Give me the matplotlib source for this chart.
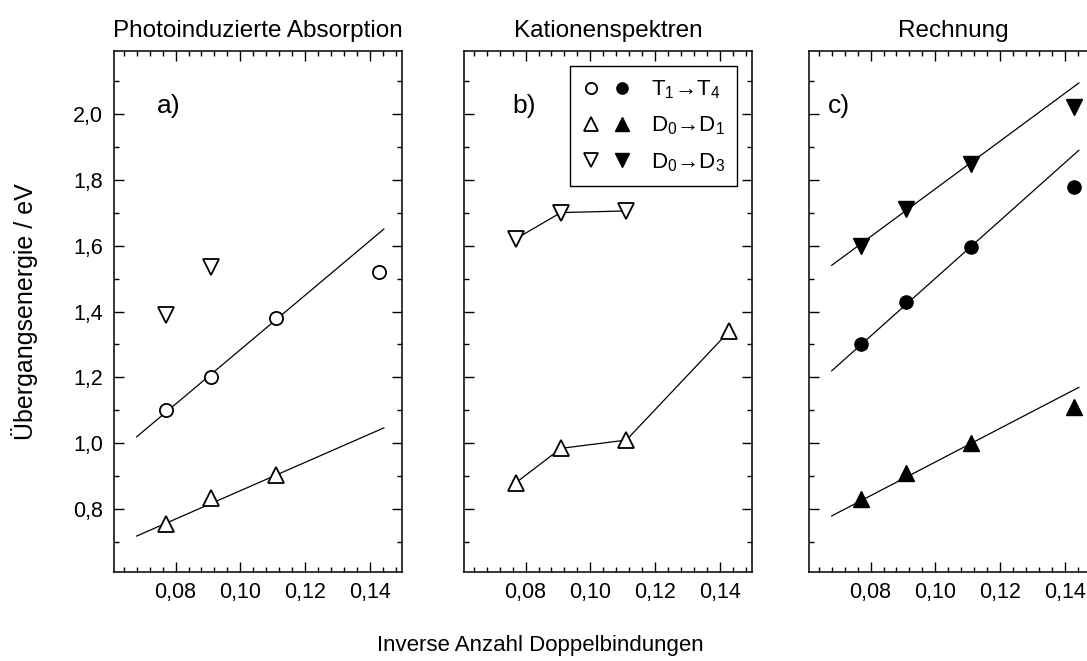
import numpy as np
import matplotlib
matplotlib.use('Agg')
import matplotlib.pyplot as plt
from matplotlib.ticker import MultipleLocator, FixedLocator, FixedFormatter
from matplotlib.legend_handler import HandlerTuple
from matplotlib.lines import Line2D

plt.rcParams['font.family'] = ['Liberation Sans', 'DejaVu Sans']
plt.rcParams['mathtext.fontset'] = 'custom'
plt.rcParams['mathtext.rm'] = 'Liberation Sans'
plt.rcParams['mathtext.it'] = 'Liberation Sans:italic'

# x: inverse Anzahl Doppelbindungen (1/13, 1/11, 1/9, 1/7)
inv_n = [1 / 13, 1 / 11, 1 / 9, 1 / 7]

# a) Photoinduzierte Absorption - offene Symbole
a_t1t4 = [1.10, 1.20, 1.38, 1.52]
a_d0d1 = [0.757, 0.835, 0.905]
a_d0d3 = [1.388, 1.534]

# b) Kationenspektren
b_d0d3 = [1.62, 1.70, 1.705]
b_d0d1 = [0.88, 0.985, 1.01, 1.34]

# c) Rechnung - gefuellte Symbole
c_t1t4 = [1.30, 1.43, 1.595, 1.777]
c_d0d1 = [0.83, 0.91, 1.00, 1.11]
c_d0d3 = [1.60, 1.71, 1.848, 2.02]

# lineare Fits (Endpunkte)
fit_x = [0.068, 0.1443]
a_fit_t1t4 = [1.02, 1.65]
a_fit_d0d1 = [0.719, 1.047]
c_fit_t1t4 = [1.22, 1.889]
c_fit_d0d1 = [0.78, 1.17]
c_fit_d0d3 = [1.54, 2.093]

titles = ['Photoinduzierte Absorption', 'Kationenspektren', 'Rechnung']
panel_tags = ['a)', 'b)', 'c)']
legend_labels = ['T$_1$→T$_4$', 'D$_0$→D$_1$', 'D$_0$→D$_3$']
xticks = [0.08, 0.10, 0.12, 0.14]
xtick_labels = ['0,08', '0,10', '0,12', '0,14']
yticks = [0.8, 1.0, 1.2, 1.4, 1.6, 1.8, 2.0]
ytick_labels = ['0,8', '1,0', '1,2', '1,4', '1,6', '1,8', '2,0']

W, H = 1087, 661
fig = plt.figure(figsize=(W / 100, H / 100), dpi=100)

lefts = [114, 464, 809]
ax_w, ax_top, ax_bot = 288, 51, 572
axes = []
for l in lefts:
    ax = fig.add_axes([l / W, 1 - ax_bot / H, ax_w / W, (ax_bot - ax_top) / H])
    axes.append(ax)

ms_c = 9.5
ms_t = 11.5
lw = 0.9
tag_x = [0.148, 0.168, 0.066]

for i, ax in enumerate(axes):
    ax.set_xlim(0.061, 0.1499)
    ax.set_ylim(0.61, 2.19)
    ax.xaxis.set_major_locator(FixedLocator(xticks))
    ax.xaxis.set_major_formatter(FixedFormatter(xtick_labels))
    ax.xaxis.set_minor_locator(MultipleLocator(0.004))
    ax.yaxis.set_major_locator(FixedLocator(yticks))
    ax.yaxis.set_minor_locator(MultipleLocator(0.1))
    if i == 0:
        ax.yaxis.set_major_formatter(FixedFormatter(ytick_labels))
    else:
        ax.set_yticklabels([])
    ax.tick_params(which='both', direction='in', top=True, right=True, width=1.0)
    ax.tick_params(which='major', length=7, labelsize=15.5)
    ax.tick_params(axis='x', which='major', pad=7)
    ax.tick_params(axis='y', which='major', pad=8)
    ax.tick_params(which='minor', length=3.5)
    for s in ax.spines.values():
        s.set_linewidth(1.1)
    ax.set_title(titles[i], fontsize=17.5, pad=10)
    ax.text(tag_x[i], 0.895, panel_tags[i], transform=ax.transAxes,
            fontsize=19, ha='left', va='center')

open_kw = dict(mfc='white', mec='black', mew=1.3, ls='none', clip_on=False)
fill_kw = dict(mfc='black', mec='black', mew=1.0, ls='none', clip_on=False)

# a)
ax = axes[0]
ax.plot(fit_x, a_fit_t1t4, color='black', lw=lw)
ax.plot(fit_x, a_fit_d0d1, color='black', lw=lw)
ax.plot(inv_n, a_t1t4, marker='o', ms=ms_c, **open_kw)
ax.plot(inv_n[:3], a_d0d1, marker='^', ms=ms_t, **open_kw)
ax.plot(inv_n[:2], a_d0d3, marker='v', ms=ms_t, **open_kw)

# b)
ax = axes[1]
ax.plot(inv_n[:3], b_d0d3, color='black', lw=lw, marker='v', ms=ms_t,
        mfc='white', mec='black', mew=1.3)
ax.plot(inv_n, b_d0d1, color='black', lw=lw, marker='^', ms=ms_t,
        mfc='white', mec='black', mew=1.3)

handles = []
for m in ['o', '^', 'v']:
    s = ms_c if m == 'o' else ms_t
    h_open = Line2D([], [], marker=m, ms=s * 0.85, mfc='white', mec='black', mew=1.3, ls='none')
    h_fill = Line2D([], [], marker=m, ms=s * 0.85, mfc='black', mec='black', mew=1.0, ls='none')
    handles.append((h_open, h_fill))
leg = ax.legend(handles, legend_labels, handler_map={tuple: HandlerTuple(ndivide=None, pad=0.6)},
                loc='upper right', bbox_to_anchor=(0.948, 0.971), borderaxespad=0,
                fontsize=16, frameon=True, fancybox=False, edgecolor='black',
                framealpha=1, handlelength=2.2, handletextpad=0.9,
                labelspacing=0.62, borderpad=0.55)
leg.get_frame().set_linewidth(1.0)

# c)
ax = axes[2]
ax.plot(fit_x, c_fit_d0d3, color='black', lw=lw)
ax.plot(fit_x, c_fit_t1t4, color='black', lw=lw)
ax.plot(fit_x, c_fit_d0d1, color='black', lw=lw)
ax.plot(inv_n, c_d0d3, marker='v', ms=ms_t, **fill_kw)
ax.plot(inv_n, c_t1t4, marker='o', ms=ms_c, **fill_kw)
ax.plot(inv_n, c_d0d1, marker='^', ms=ms_t, **fill_kw)

axes[0].set_ylabel('Übergangsenergie / eV', fontsize=18)
axes[0].yaxis.set_label_coords(-0.265, 0.5)
fig.text(540 / W, 1 - 645 / H, 'Inverse Anzahl Doppelbindungen',
         fontsize=16, ha='center', va='center')

fig.savefig('out.png', dpi=100)
